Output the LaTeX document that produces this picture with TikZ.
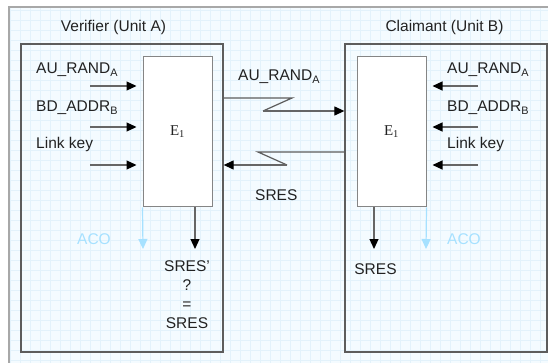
\documentclass[tikz,border=0pt]{standalone}
\usepackage{fontspec}
\setmainfont{Liberation Sans}
\newfontfamily\serifE{Liberation Serif}
\usetikzlibrary{arrows.meta}
\definecolor{bgblue}{HTML}{F4FBFF}
\definecolor{gridblue}{HTML}{E3F2FB}
\definecolor{acoblue}{HTML}{A6E1FF}
\definecolor{txt}{HTML}{222222}
\definecolor{shaft}{HTML}{666666}
\definecolor{frame}{HTML}{A8A8A8}
\tikzset{
  lbl/.style={font=\fontsize{15.5}{18}\selectfont, text=txt, inner sep=0pt},
  acolbl/.style={font=\fontsize{15.5}{18}\selectfont, text=acoblue, inner sep=0pt},
  unitbox/.style={draw=shaft!90!black, line width=1.3pt, minimum width=202pt, minimum height=308pt, inner sep=0pt},
  ebox/.style={draw=shaft!80, fill=white, line width=1pt, minimum width=69pt, minimum height=150pt, inner sep=0pt, font=\serifE\fontsize{15}{18}\selectfont, text=txt},
  arr/.style={draw=shaft, line width=1.2pt, -{Triangle[length=10pt,width=9pt,color=black]}},
  acoarr/.style={draw=acoblue, line width=1.2pt, -{Triangle[length=10pt,width=9pt,color=acoblue]}},
  chan/.style={draw=shaft!90!black, line width=1.2pt},
}
\begin{document}
\begin{tikzpicture}[x=1pt,y=-1pt]
\useasboundingbox (0,0) rectangle (548,363);
% background
\fill[white] (0,0) rectangle (548,363);
\fill[bgblue] (9,7) rectangle (548,363);
\draw[gridblue, line width=0.4pt] (9,7) grid[step=10pt] (548,363);
\draw[frame, line width=2pt] (9,363) -- (9,7) -- (548,7);

% unit boxes
\node[unitbox] (vA) at (122,198) {};
\node[unitbox] (cB) at (446,198) {};
\node[lbl, anchor=base] (tA) at (113.5,32) {Verifier (Unit A)};
\node[lbl, anchor=base] (tB) at (444.5,32) {Claimant (Unit B)};

% E1 boxes
\node[ebox] (eA) at (177.5,132) {E\textsubscript{1}};
\node[ebox] (eB) at (391.5,132) {E\textsubscript{1}};

% inputs A
\node[lbl, anchor=base west] (a1) at (36,74) {AU\_RAND\textsubscript{A}};
\node[lbl, anchor=base west] (a2) at (36,112) {BD\_ADDR\textsubscript{B}};
\node[lbl, anchor=base west] (a3) at (36,149) {Link key};
\coordinate (ia1) at (90,86);
\coordinate (ia2) at (90,127);
\coordinate (ia3) at (90,165);
\draw[arr, shorten >=6pt] (ia1) -- (ia1 -| eA.west);
\draw[arr, shorten >=6pt] (ia2) -- (ia2 -| eA.west);
\draw[arr, shorten >=6pt] (ia3) -- (ia3 -| eA.west);

% inputs B
\node[lbl, anchor=base west] (b1) at (447,74) {AU\_RAND\textsubscript{A}};
\node[lbl, anchor=base west] (b2) at (447,112) {BD\_ADDR\textsubscript{B}};
\node[lbl, anchor=base west] (b3) at (447,149) {Link key};
\coordinate (ib1) at (478,86);
\coordinate (ib2) at (478,127);
\coordinate (ib3) at (478,165);
\draw[arr, shorten >=6pt] (ib1) -- (ib1 -| eB.east);
\draw[arr, shorten >=6pt] (ib2) -- (ib2 -| eB.east);
\draw[arr, shorten >=6pt] (ib3) -- (ib3 -| eB.east);

% channel
\node[lbl, anchor=base west] (mr) at (238,81) {AU\_RAND\textsubscript{A}};
\node[lbl, anchor=base west] (ms) at (255,201) {SRES};
\coordinate (u1) at (292,98);
\coordinate (u2) at (263,111);
\draw[chan] (vA.east |- u1) -- (u1) -- (u2);
\draw[arr] (u2) -- (u2 -| cB.west);
\coordinate (l1) at (258,152);
\coordinate (l2) at (287,165);
\draw[chan] (cB.west |- l1) -- (l1) -- (l2);
\draw[arr] (l2) -- (l2 -| vA.east);

% outputs A
\coordinate (oA) at (195,249);
\draw[arr] (eA.south -| oA) -- (oA);
\coordinate (acA) at (143,249);
\draw[acoarr] (eA.south west) -- (acA);
\node[acolbl, anchor=base] (acoA) at (94,244) {ACO};
\node[lbl, anchor=base, align=center, font=\fontsize{15.5}{19}\selectfont] (cmp) at (187,328) {SRES'\\?\\=\\SRES};

% outputs B
\coordinate (oB) at (374,249);
\draw[arr] (eB.south -| oB) -- (oB);
\coordinate (acB) at (426,249);
\draw[acoarr] (eB.south east) -- (acB);
\node[acolbl, anchor=base] (acoB) at (464,244) {ACO};
\node[lbl, anchor=base] (sB) at (375.5,274) {SRES};
\end{tikzpicture}
\end{document}
